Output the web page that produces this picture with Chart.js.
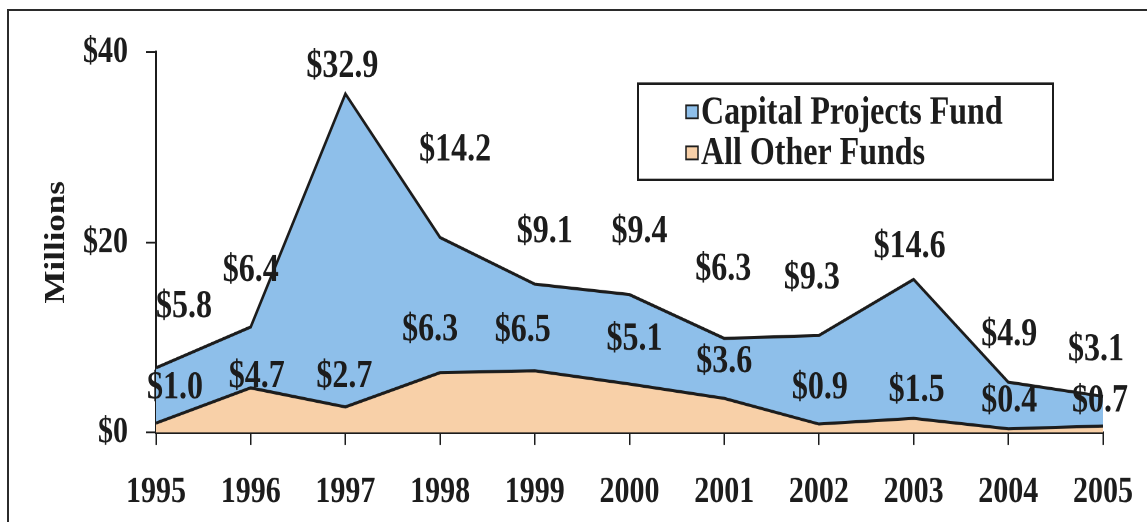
<!DOCTYPE html>
<html>
<head>
<meta charset="utf-8">
<script src="https://cdn.jsdelivr.net/npm/chart.js@4"></script>
<style>
  html, body { margin: 0; padding: 0; background: #fff; }
  body { width: 1147px; height: 522px; position: relative; overflow: hidden; }
  #wrap { position: absolute; left: 0; top: 0; transform: scaleY(1.2488); transform-origin: 0 0; }
  #frame { position: absolute; left: 7px; top: 9px; right: 0; bottom: 0;
           border-top: 2px solid #2b2b2b; border-left: 2px solid #2b2b2b; }
</style>
</head>
<body>
<div id="wrap"><canvas id="myChart" width="1147" height="418" style="width:1147px;height:418px"></canvas></div>
<div id="frame"></div>
<script>
const years = ["1995", "1996", "1997", "1998", "1999", "2000", "2001", "2002", "2003", "2004", "2005"];
const capitalProjects = [5.8, 6.4, 32.9, 14.2, 9.1, 9.4, 6.3, 9.3, 14.6, 4.9, 3.1];
const allOther = [1.0, 4.7, 2.7, 6.3, 6.5, 5.1, 3.6, 0.9, 1.5, 0.4, 0.7];
const yTicks = [0, 20, 40];

// label nudges (px) relative to each point, copied by eye from the original
const capitalDx = [28, 0, -3, 15, 10, 10, -1, -7, -4, 1, -7];
const capitalDy = [-49, -45, -22, -70, -42, -50, -55, -46, -26, -38, -37];
const otherDx = [19, 6, -1, -10, -12, 5, 0, 1, 3, 1, -3];
const otherDy = [-28, -9, -24, -34, -32, -36, -29, -29, -22, -22, -20];

const ink = "#1c1c1c";
const serif = '"Liberation Serif", "Times New Roman", serif';

const valueLabels = {
  id: "valueLabels",
  afterDatasetsDraw(chart) {
    const { ctx } = chart;
    ctx.save();
    ctx.font = "bold 32px " + serif;
    ctx.fillStyle = ink;
    ctx.textAlign = "center";
    ctx.textBaseline = "middle";
    chart.data.datasets.forEach((ds, di) => {
      const meta = chart.getDatasetMeta(di);
      const dx = ds.label === "Capital Projects Fund" ? capitalDx : otherDx;
      const dy = ds.label === "Capital Projects Fund" ? capitalDy : otherDy;
      meta.data.forEach((pt, i) => {
        ctx.fillText("$" + ds.data[i].toFixed(1), pt.x + dx[i], pt.y + dy[i]);
      });
    });
    ctx.restore();
  },
};

const boxLegend = {
  id: "boxLegend",
  afterDraw(chart) {
    const { ctx } = chart;
    ctx.save();
    ctx.fillStyle = "#fff";
    ctx.fillRect(638, 67, 415, 77);
    ctx.strokeStyle = ink;
    ctx.lineWidth = 2;
    ctx.strokeRect(638, 67, 415, 77);
    ctx.font = "bold 32px " + serif;
    ctx.textBaseline = "middle";
    const items = chart.data.datasets.slice().reverse();
    items.forEach((ds, i) => {
      const cy = 89.6 + i * 32.8;
      ctx.fillStyle = ds.backgroundColor;
      ctx.fillRect(686, cy - 5.2, 12, 10.4);
      ctx.lineWidth = 1.5;
      ctx.strokeStyle = ink;
      ctx.strokeRect(686, cy - 5.2, 12, 10.4);
      ctx.fillStyle = ink;
      ctx.fillText(ds.label, 701, cy + 1);
    });
    ctx.restore();
  },
};

const ctx = document.getElementById("myChart").getContext("2d");

new Chart(ctx, {
  type: "line",
  data: {
    labels: years,
    datasets: [
      {
        label: "All Other Funds",
        data: allOther,
        backgroundColor: "#f8d0a8",
        borderColor: ink,
        borderWidth: 2.5,
        fill: "origin",
        pointRadius: 0,
        tension: 0,
      },
      {
        label: "Capital Projects Fund",
        data: capitalProjects,
        backgroundColor: "#8ebfea",
        borderColor: ink,
        borderWidth: 2.5,
        fill: "-1",
        pointRadius: 0,
        tension: 0,
      },
    ],
  },
  options: {
    responsive: false,
    animation: false,
    devicePixelRatio: 2,
    layout: { padding: { top: 41.6, right: 44, left: 0, bottom: 0 } },
    scales: {
      x: {
        offset: false,
        grid: { drawOnChartArea: false, tickLength: 10, color: ink, lineWidth: 1.5 },
        border: { display: true, color: ink, width: 2 },
        ticks: {
          autoSkip: false,
          maxRotation: 0,
          padding: 20,
          color: ink,
          font: { family: serif, size: 30, weight: "bold" },
        },
        afterFit(scale) {
          scale.height = 71.6;
          scale.paddingLeft = 0;
          scale.paddingRight = 0;
        },
      },
      y: {
        stacked: true,
        min: 0,
        max: 40,
        afterBuildTicks(scale) { scale.ticks = yTicks.map((v) => ({ value: v })); },
        grid: { drawOnChartArea: false, tickLength: 10, color: ink, lineWidth: 1.5 },
        border: { display: true, color: ink, width: 2 },
        ticks: {
          padding: 18,
          color: ink,
          font: { family: serif, size: 30, weight: "bold" },
          callback: (v) => "$" + v,
        },
        title: {
          display: true,
          text: "Millions",
          color: ink,
          font: { family: serif, size: 28, weight: "bold" },
          padding: { top: 40, bottom: 0 },
        },
        afterFit(scale) { scale.width = 156; },
      },
    },
    plugins: {
      legend: { display: false },
      tooltip: { enabled: false },
    },
  },
  plugins: [valueLabels, boxLegend],
});
</script>
</body>
</html>
